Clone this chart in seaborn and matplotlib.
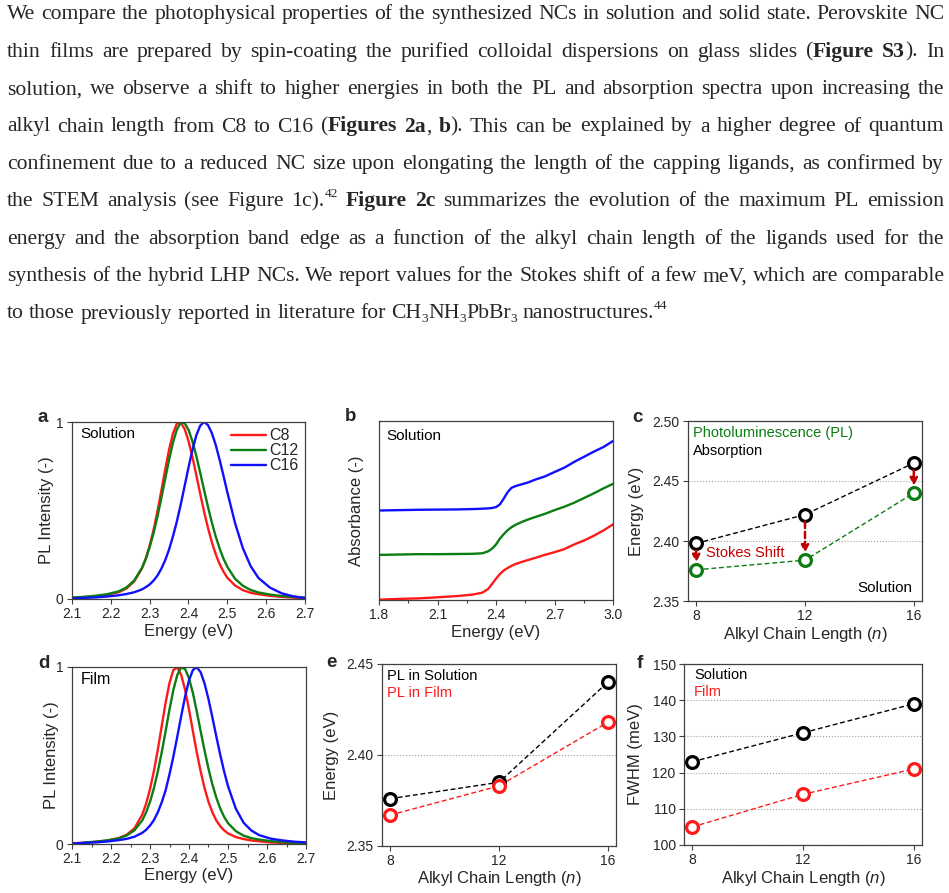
import re
import numpy as np
import matplotlib
matplotlib.use("Agg")
import matplotlib.pyplot as plt
import seaborn as sns

# ---------------- paragraph text (markup: *bold*, ^{sup}, _{sub}) ----------------
para_lines = [
    "We compare the photophysical properties of the synthesized NCs in solution and solid state. Perovskite NC",
    "thin films are prepared by spin-coating the purified colloidal dispersions on glass slides (*Figure* *S3*). In",
    "solution, we observe a shift to higher energies in both the PL and absorption spectra upon increasing the",
    "alkyl chain length from C8 to C16 (*Figures* *2a*, *b*). This can be explained by a higher degree of quantum",
    "confinement due to a reduced NC size upon elongating the length of the capping ligands, as confirmed by",
    "the STEM analysis (see Figure 1c).^{42} *Figure* *2c* summarizes the evolution of the maximum PL emission",
    "energy and the absorption band edge as a function of the alkyl chain length of the ligands used for the",
    "synthesis of the hybrid LHP NCs. We report values for the Stokes shift of a few meV, which are comparable",
    "to those previously reported in literature for CH_{3}NH_{3}PbBr_{3} nanostructures.^{44}",
]

# ---------------- panel a / d : PL spectra ----------------
series_labels = ["C8", "C12", "C16"]
E_pl = [2.10, 2.13, 2.16, 2.19, 2.22, 2.24, 2.26,
        2.28, 2.29, 2.30, 2.31, 2.32, 2.33, 2.34, 2.35, 2.36, 2.37, 2.38, 2.39,
        2.40, 2.41, 2.42, 2.43, 2.44, 2.45, 2.46, 2.47, 2.48, 2.49, 2.50,
        2.52, 2.54, 2.56, 2.58, 2.61, 2.64, 2.67, 2.70]

sol_c8 = [0.006, 0.010, 0.015, 0.024, 0.038, 0.059, 0.099,
          0.172, 0.228, 0.302, 0.390, 0.495, 0.611, 0.731, 0.844, 0.935, 0.991, 0.997, 0.961,
          0.893, 0.804, 0.701, 0.596, 0.495, 0.403, 0.322, 0.254, 0.198, 0.155, 0.120,
          0.076, 0.050, 0.035, 0.027, 0.018, 0.012, 0.008, 0.005]
sol_c12 = [0.008, 0.012, 0.018, 0.027, 0.043, 0.065, 0.104,
           0.175, 0.227, 0.293, 0.372, 0.465, 0.569, 0.679, 0.787, 0.884, 0.957, 0.997, 0.994,
           0.956, 0.892, 0.809, 0.715, 0.617, 0.522, 0.433, 0.354, 0.286, 0.228, 0.182,
           0.114, 0.075, 0.051, 0.037, 0.025, 0.017, 0.012, 0.008]
sol_c16 = [0.004, 0.006, 0.009, 0.014, 0.021, 0.028, 0.038,
           0.054, 0.067, 0.082, 0.104, 0.132, 0.171, 0.219, 0.280, 0.354, 0.438, 0.534, 0.638,
           0.743, 0.841, 0.924, 0.979, 1.000, 0.983, 0.938, 0.871, 0.788, 0.697, 0.603,
           0.428, 0.287, 0.186, 0.119, 0.064, 0.032, 0.015, 0.005]

film_c8 = [0.004, 0.007, 0.012, 0.020, 0.033, 0.052, 0.088,
           0.166, 0.227, 0.310, 0.412, 0.532, 0.666, 0.798, 0.910, 0.983, 0.998, 0.955, 0.871,
           0.760, 0.637, 0.517, 0.409, 0.315, 0.238, 0.179, 0.133, 0.101, 0.077, 0.060,
           0.039, 0.028, 0.020, 0.015, 0.009, 0.006, 0.004, 0.003]
film_c12 = [np.nan, 0.008, 0.013, 0.020, 0.032, 0.048, 0.077,
            0.133, 0.179, 0.238, 0.315, 0.409, 0.517, 0.637, 0.760, 0.871, 0.955, 0.998, 0.989,
            0.936, 0.853, 0.748, 0.636, 0.527, 0.425, 0.336, 0.262, 0.201, 0.154, 0.118,
            0.073, 0.047, 0.033, 0.025, 0.016, 0.011, 0.007, 0.005]
film_c16 = [0.003, 0.006, 0.009, 0.014, 0.022, 0.029, 0.041,
            0.063, 0.080, 0.104, 0.135, 0.179, 0.235, 0.303, 0.394, 0.495, 0.607, 0.723, 0.833,
            0.925, 0.983, 0.999, 0.970, 0.906, 0.818, 0.715, 0.608, 0.505, 0.410, 0.327,
            0.200, 0.120, 0.076, 0.050, 0.030, 0.020, 0.013, 0.009]

# ---------------- panel b : absorbance (offset, arbitrary units) ----------------
E_abs = [1.80, 1.90, 2.00, 2.10, 2.20, 2.28, 2.33, 2.36, 2.38, 2.40, 2.42, 2.44, 2.46,
         2.48, 2.50, 2.53, 2.56, 2.60, 2.65, 2.70, 2.75, 2.80, 2.85, 2.90, 2.95, 3.00]
abs_c8 = [0.002, 0.006, 0.009, 0.015, 0.022, 0.030, 0.041, 0.062, 0.090, 0.119, 0.145, 0.165, 0.179,
          0.191, 0.201, 0.212, 0.222, 0.235, 0.252, 0.267, 0.284, 0.310, 0.332, 0.358, 0.388, 0.422]
abs_c12 = [0.252, 0.254, 0.256, 0.256, 0.257, 0.258, 0.261, 0.272, 0.287, 0.310, 0.343, 0.368, 0.390,
           0.407, 0.420, 0.435, 0.448, 0.463, 0.481, 0.502, 0.521, 0.543, 0.569, 0.595, 0.623, 0.649]
abs_c16 = [0.500, 0.502, 0.504, 0.505, 0.506, 0.508, 0.510, 0.512, 0.514, 0.519, 0.534, 0.567, 0.603,
           0.627, 0.636, 0.646, 0.655, 0.672, 0.690, 0.715, 0.739, 0.771, 0.799, 0.828, 0.854, 0.888]

# ---------------- panels c, e, f ----------------
chain_n = [8, 12, 16]
c_absorption = [2.398, 2.422, 2.465]
c_pl = [2.376, 2.384, 2.440]
e_pl_solution = [2.376, 2.385, 2.440]
e_pl_film = [2.367, 2.383, 2.418]
f_fwhm_solution = [123, 131, 139]
f_fwhm_film = [105, 114, 121]

pl_xticks = [2.1, 2.2, 2.3, 2.4, 2.5, 2.6, 2.7]
abs_xticks = [1.8, 2.1, 2.4, 2.7, 3.0]
c_yticks = [2.35, 2.40, 2.45, 2.50]
e_yticks = [2.35, 2.40, 2.45]
f_yticks = [100, 110, 120, 130, 140, 150]

# ---------------- style ----------------
sns.set_style("ticks")
plt.rcParams["font.family"] = ["Liberation Sans", "DejaVu Sans"]
plt.rcParams["mathtext.fontset"] = "custom"
plt.rcParams["mathtext.rm"] = "Liberation Sans"
plt.rcParams["mathtext.it"] = "Liberation Sans:italic"

RED, GREEN, BLUE = "#ff1a1a", "#0b7d12", "#1010ff"
DARKRED = "#c00000"
SPINE = "#404040"
TICK_FS, LABEL_FS = 10, 12

W, H = 949, 893
fig = plt.figure(figsize=(W / 100, H / 100), dpi=100)
renderer = fig.canvas.get_renderer()


def px_axes(l, t, r, b):
    return fig.add_axes([l / W, 1 - b / H, (r - l) / W, (b - t) / H])


def style_axes(ax):
    for s in ax.spines.values():
        s.set_visible(True)
        s.set_color(SPINE)
        s.set_linewidth(0.9)
    ax.tick_params(which="both", direction="out", color=SPINE, width=0.8,
                   labelsize=TICK_FS, pad=2.5)
    ax.tick_params(which="major", length=3.5)
    ax.tick_params(which="minor", length=2.5)


def note(ax, x, y, s, fs, color="black", ha="left"):
    ax.text(x, y, s, transform=ax.transAxes, fontsize=fs, color=color, va="center", ha=ha)


# ---------------- paragraph ----------------
SERIF = "Liberation Serif"


def parse_word(w):
    segs = []
    for part in re.split(r"(\*[^*]+\*|\^\{[^}]+\}|_\{[^}]+\})", w):
        if not part:
            continue
        if part.startswith("*"):
            segs.append((part[1:-1], "b"))
        elif part.startswith("^{"):
            segs.append((part[2:-1], "sup"))
        elif part.startswith("_{"):
            segs.append((part[2:-1], "sub"))
        else:
            segs.append((part, "n"))
    return segs


def seg_kw(style, fs):
    kw = dict(family=SERIF, fontsize=fs if style in ("n", "b") else fs * 0.62,
              va="baseline", ha="left")
    if style == "b":
        kw["fontweight"] = "bold"
    return kw


def seg_w(txt, style, fs):
    t = fig.text(0, 0, txt, **seg_kw(style, fs))
    w = t.get_window_extent(renderer).width
    t.remove()
    return w


x_left, x_right = 7, 944
base0, line_step = 19.3, 37.4
fs = 14.5
words = [[parse_word(w) for w in line.split(" ")] for line in para_lines]


def word_widths(fs):
    return [[sum(seg_w(t, s, fs) for t, s in wd) for wd in line] for line in words]


# scale the font so the densest justified line fills the column with normal spaces
sp = seg_w("a a", "n", fs) - seg_w("aa", "n", fs)
ww = word_widths(fs)
need = max((sum(w) + sp * (len(w) - 1)) / (x_right - x_left) for w in ww[:-1])
fs = fs / need
sp = seg_w("a a", "n", fs) - seg_w("aa", "n", fs)
ww = word_widths(fs)

em = fs * 100 / 72
for i, (line, widths) in enumerate(zip(words, ww)):
    base = base0 + line_step * i
    last = i == len(words) - 1
    gap = sp if last else (x_right - x_left - sum(widths)) / (len(widths) - 1)
    x = x_left
    for wd, wdw in zip(line, widths):
        cx = x
        for txt, style in wd:
            dy = 0.42 * em if style == "sup" else (-0.16 * em if style == "sub" else 0)
            fig.text(cx / W, 1 - (base - dy) / H, txt, **seg_kw(style, fs))
            cx += seg_w(txt, style, fs)
        x += wdw + gap

# ---------------- panel letters ----------------
for letter, (lx, ly) in zip("abcdef", [(38, 422), (345, 421), (632, 422),
                                       (38, 668), (326, 667), (637, 668)]):
    fig.text(lx / W, 1 - ly / H, letter, fontsize=13.5, fontweight="bold",
             va="baseline", ha="left")

pl_colors = [RED, GREEN, BLUE]

# ---------------- a ----------------
ax_a = px_axes(72, 422, 305, 599)
for lab, vals, col in zip(series_labels, [sol_c8, sol_c12, sol_c16], pl_colors):
    sns.lineplot(x=E_pl, y=vals, color=col, linewidth=1.7, label=lab, ax=ax_a)
ax_a.set_xlim(2.1, 2.7)
ax_a.set_ylim(0, 1)
ax_a.set_xticks(pl_xticks)
ax_a.set_xticklabels([f"{v:.1f}" for v in pl_xticks])
ax_a.set_yticks([0, 1])
ax_a.set_yticklabels(["0", "1"])
ax_a.legend(loc="upper right", frameon=False, fontsize=11.5, handlelength=2.2,
            handletextpad=0.2, labelspacing=0.0, borderaxespad=0.2, borderpad=0.2)
note(ax_a, 0.034, 0.93, "Solution", 11)
ax_a.set_xlabel("Energy (eV)", fontsize=LABEL_FS)
ax_a.set_ylabel("PL Intensity (-)", fontsize=LABEL_FS)
style_axes(ax_a)
ax_a.xaxis.set_label_coords(0.5, -0.14)
ax_a.yaxis.set_label_coords(-0.078, 0.5)

# ---------------- b ----------------
ax_b = px_axes(379, 421, 613, 600)
for vals, col in zip([abs_c8, abs_c12, abs_c16], pl_colors):
    sns.lineplot(x=E_abs, y=vals, color=col, linewidth=1.7, ax=ax_b)
ax_b.set_xlim(1.8, 3.0)
ax_b.set_ylim(0, 1)
ax_b.set_xticks(abs_xticks)
ax_b.set_xticklabels([f"{v:.1f}" for v in abs_xticks])
ax_b.xaxis.set_minor_locator(matplotlib.ticker.MultipleLocator(0.15))
ax_b.set_yticks([])
note(ax_b, 0.03, 0.916, "Solution", 11)
ax_b.set_xlabel("Energy (eV)", fontsize=LABEL_FS)
ax_b.set_ylabel("Absorbance (-)", fontsize=LABEL_FS)
style_axes(ax_b)
ax_b.xaxis.set_label_coords(0.5, -0.14)
ax_b.yaxis.set_label_coords(-0.064, 0.5)

# ---------------- scatter-line helper ----------------
dash = (0, (3.5, 2.0))


def open_line(ax, y, col):
    sns.lineplot(x=chain_n, y=y, color=col, linestyle=dash, linewidth=1.0, marker="o",
                 markersize=8.5, markerfacecolor="white", markeredgecolor=col,
                 markeredgewidth=2.3, clip_on=False, ax=ax)


xlabel_n = "Alkyl Chain Length ($\\mathit{n}$)"

# ---------------- c ----------------
ax_c = px_axes(688, 421, 922, 601)
ax_c.set_axisbelow(True)
ax_c.yaxis.grid(True, linestyle=":", color="#a0a0a0", linewidth=0.8)
open_line(ax_c, c_absorption, "black")
open_line(ax_c, c_pl, GREEN)
gap_y = 0.006
for n, ya, yp in zip(chain_n, c_absorption, c_pl):
    ax_c.annotate("", xy=(n, yp + gap_y), xytext=(n, ya - gap_y),
                  arrowprops=dict(arrowstyle="-|>", color=DARKRED, linestyle=(0, (2.5, 1.5)),
                                  linewidth=1.8, mutation_scale=11, shrinkA=0, shrinkB=0))
ax_c.text(8.37, 2.3897, "Stokes Shift", color=DARKRED, fontsize=10.5, va="center", ha="left")
note(ax_c, 0.021, 0.933, "Photoluminescence (PL)", 10.5, GREEN)
note(ax_c, 0.021, 0.835, "Absorption", 10.5)
note(ax_c, 0.957, 0.074, "Solution", 11, ha="right")
ax_c.set_xlim(7.7, 16.3)
ax_c.set_ylim(2.35, 2.50)
ax_c.set_xticks(chain_n)
ax_c.set_xticklabels([str(v) for v in chain_n])
ax_c.set_yticks(c_yticks)
ax_c.set_yticklabels([f"{v:.2f}" for v in c_yticks])
ax_c.set_xlabel(xlabel_n, fontsize=LABEL_FS)
ax_c.set_ylabel("Energy (eV)", fontsize=LABEL_FS)
style_axes(ax_c)
ax_c.xaxis.set_label_coords(0.5, -0.135)
ax_c.yaxis.set_label_coords(-0.188, 0.5)

# ---------------- d ----------------
ax_d = px_axes(72, 667, 306, 844)
for vals, col in zip([film_c8, film_c12, film_c16], pl_colors):
    sns.lineplot(x=E_pl, y=vals, color=col, linewidth=1.7, ax=ax_d)
ax_d.set_xlim(2.1, 2.7)
ax_d.set_ylim(0, 1)
ax_d.set_xticks(pl_xticks)
ax_d.set_xticklabels([f"{v:.1f}" for v in pl_xticks])
ax_d.xaxis.set_minor_locator(matplotlib.ticker.MultipleLocator(0.05))
ax_d.set_yticks([0, 1])
ax_d.set_yticklabels(["0", "1"])
note(ax_d, 0.037, 0.927, "Film", 11.5)
ax_d.set_xlabel("Energy (eV)", fontsize=LABEL_FS)
ax_d.set_ylabel("PL Intensity (-)", fontsize=LABEL_FS)
style_axes(ax_d)
ax_d.xaxis.set_label_coords(0.5, -0.135)
ax_d.yaxis.set_label_coords(-0.056, 0.5)

# ---------------- e ----------------
ax_e = px_axes(382, 664, 616, 846)
ax_e.set_axisbelow(True)
ax_e.yaxis.grid(True, linestyle=":", color="#a0a0a0", linewidth=0.8)
open_line(ax_e, e_pl_solution, "black")
open_line(ax_e, e_pl_film, RED)
note(ax_e, 0.02, 0.934, "PL in Solution", 10.5)
note(ax_e, 0.02, 0.839, "PL in Film", 10.5, RED)
ax_e.set_xlim(7.7, 16.3)
ax_e.set_ylim(2.35, 2.45)
ax_e.set_xticks(chain_n)
ax_e.set_xticklabels([str(v) for v in chain_n])
ax_e.set_yticks(e_yticks)
ax_e.set_yticklabels([f"{v:.2f}" for v in e_yticks])
ax_e.set_xlabel(xlabel_n, fontsize=LABEL_FS)
ax_e.set_ylabel("Energy (eV)", fontsize=LABEL_FS)
style_axes(ax_e)
ax_e.xaxis.set_label_coords(0.5, -0.125)
ax_e.yaxis.set_label_coords(-0.184, 0.5)

# ---------------- f ----------------
ax_f = px_axes(684, 664, 922, 845)
ax_f.set_axisbelow(True)
ax_f.yaxis.grid(True, linestyle=":", color="#a0a0a0", linewidth=0.8)
open_line(ax_f, f_fwhm_solution, "black")
open_line(ax_f, f_fwhm_film, RED)
note(ax_f, 0.042, 0.939, "Solution", 10.5)
note(ax_f, 0.042, 0.847, "Film", 10.5, RED)
ax_f.set_xlim(7.7, 16.3)
ax_f.set_ylim(100, 150)
ax_f.set_xticks(chain_n)
ax_f.set_xticklabels([str(v) for v in chain_n])
ax_f.set_yticks(f_yticks)
ax_f.set_yticklabels([str(v) for v in f_yticks])
ax_f.set_xlabel(xlabel_n, fontsize=LABEL_FS)
ax_f.set_ylabel("FWHM (meV)", fontsize=LABEL_FS)
style_axes(ax_f)
ax_f.xaxis.set_label_coords(0.5, -0.13)
ax_f.yaxis.set_label_coords(-0.172, 0.5)

fig.savefig("out.png", dpi=100)
